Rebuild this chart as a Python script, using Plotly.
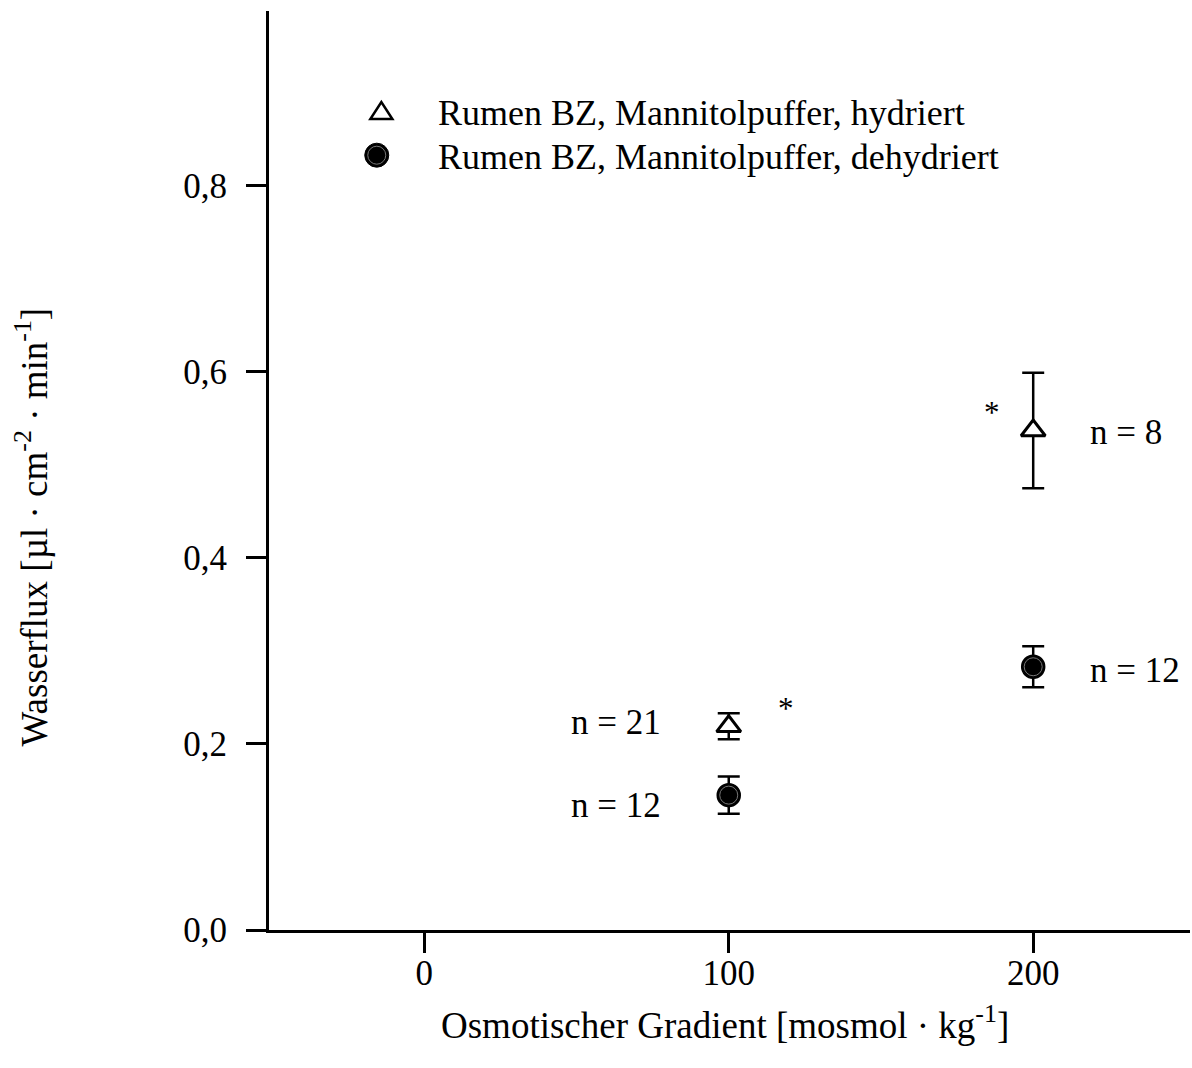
import plotly.graph_objects as go

# Osmotic gradient (mosmol/kg) and measured water flux (mean ± SEM)
gradient = [100, 200]
hyd_mean = [0.219, 0.537]
hyd_err = [0.014, 0.062]
hyd_n = [21, 8]
hyd_sig = [True, True]
dehyd_mean = [0.145, 0.283]
dehyd_err = [0.020, 0.022]
dehyd_n = [12, 12]

series_names = [
    "Rumen BZ, Mannitolpuffer, hydriert",
    "Rumen BZ, Mannitolpuffer, dehydriert",
]
y_ticks = [0.0, 0.2, 0.4, 0.6, 0.8]
x_ticks = [0, 100, 200]

FONT = "Liberation Serif, Times New Roman, serif"
FS = 35        # tick labels and point labels
FS_LEG = 36    # legend text
FS_TITLE = 37  # axis titles

fig = go.Figure()

err_style = dict(type="data", visible=True, thickness=2.5, width=11, color="black")

fig.add_trace(go.Scatter(
    x=gradient, y=hyd_mean, mode="markers", name=series_names[0],
    error_y=dict(array=hyd_err, **err_style),
    marker=dict(symbol="triangle-up", size=21, color="white",
                line=dict(color="black", width=3)),
    showlegend=False,
))
fig.add_trace(go.Scatter(
    x=gradient, y=dehyd_mean, mode="markers", name=series_names[1],
    error_y=dict(array=dehyd_err, **err_style),
    marker=dict(symbol="circle", size=23, color="black",
                line=dict(color="black", width=1.5)),
    showlegend=False,
))
# thin grey ring inside the filled circles
fig.add_trace(go.Scatter(
    x=gradient, y=dehyd_mean, mode="markers", hoverinfo="skip",
    marker=dict(symbol="circle", size=18, color="black",
                line=dict(color="#777777", width=1)),
    showlegend=False,
))

txt = dict(family=FONT, size=FS, color="black")
txt_leg = dict(family=FONT, size=FS_LEG, color="black")
txt_title = dict(family=FONT, size=FS_TITLE, color="black")

# sample size labels: left of the points at 100, right of the points at 200
hyd_label_dy = [4, -2]
dehyd_label_dy = [-10, -4]
for ys, ns, dys in [(hyd_mean, hyd_n, hyd_label_dy), (dehyd_mean, dehyd_n, dehyd_label_dy)]:
    for x, y, n, dy in zip(gradient, ys, ns, dys):
        left = x < 150
        fig.add_annotation(
            x=x, y=y, text=f"n = {n}", showarrow=False, font=txt,
            xanchor="right" if left else "left",
            xshift=-66 if left else 55,
            yshift=dy,
        )

# significance stars for the hydrated series
for x, y, s in zip(gradient, hyd_mean, hyd_sig):
    if s:
        left = x < 150
        fig.add_annotation(
            x=x, y=y, text="*", showarrow=False,
            font=dict(family=FONT, size=31, color="black"),
            xanchor="center", xshift=57 if left else -41, yshift=18,
        )

# legend: symbols drawn as pixel-sized shapes, labels as text
leg_x_sym = 0.120
leg_x_txt = 0.1813
leg_y = [0.889, 0.8411]
fig.add_shape(type="path", xref="paper", yref="paper",
              xsizemode="pixel", ysizemode="pixel",
              xanchor=leg_x_sym + 0.002, yanchor=leg_y[0] + 0.001,
              path="M -11,-7 L 11,-7 L 0,10 Z",
              line=dict(color="black", width=2.5), fillcolor="white")
fig.add_shape(type="circle", xref="paper", yref="paper",
              xsizemode="pixel", ysizemode="pixel",
              xanchor=leg_x_sym - 0.003, yanchor=leg_y[1] + 0.002,
              x0=-12, x1=12, y0=-12, y1=12,
              line=dict(color="black", width=1), fillcolor="black")
fig.add_shape(type="circle", xref="paper", yref="paper",
              xsizemode="pixel", ysizemode="pixel",
              xanchor=leg_x_sym - 0.003, yanchor=leg_y[1] + 0.002,
              x0=-9, x1=9, y0=-9, y1=9,
              line=dict(color="#777777", width=1), fillcolor="black")
for name, yy in zip(series_names, leg_y):
    fig.add_annotation(x=leg_x_txt, y=yy, xref="paper", yref="paper", text=name,
                       showarrow=False, xanchor="left", yanchor="middle", font=txt_leg)

# axis titles
fig.add_annotation(
    x=-0.258, y=0.4385, xref="paper", yref="paper", textangle=-90,
    text="Wasserflux [µl · cm<sup>-2</sup> · min<sup>-1</sup>]",
    showarrow=False, xanchor="center", yanchor="middle", font=txt_title,
)
fig.add_annotation(
    x=0.495, y=-0.101, xref="paper", yref="paper",
    text="Osmotischer Gradient [mosmol · kg<sup>-1</sup>]",
    showarrow=False, xanchor="center", yanchor="middle", font=txt_title,
)

axis_common = dict(
    showline=True, linewidth=3, linecolor="black",
    ticks="outside", ticklen=20, tickwidth=3, tickcolor="black",
    showgrid=False, zeroline=False,
    tickfont=dict(family=FONT, size=FS, color="black"),
)
fig.update_xaxes(range=[-51, 251.5], tickvals=x_ticks, ticklabelstandoff=-10, **axis_common)
fig.update_yaxes(range=[0, 0.988], tickvals=y_ticks, tickformat=".1f",
                 ticklabelstandoff=12, **axis_common)

fig.update_layout(
    width=1192, height=1068,
    margin=dict(l=269, r=2, t=11, b=138),
    paper_bgcolor="white", plot_bgcolor="white",
    separators=",.",
    font=dict(family=FONT, size=FS, color="black"),
    showlegend=False,
)

fig.write_html("out.html")
